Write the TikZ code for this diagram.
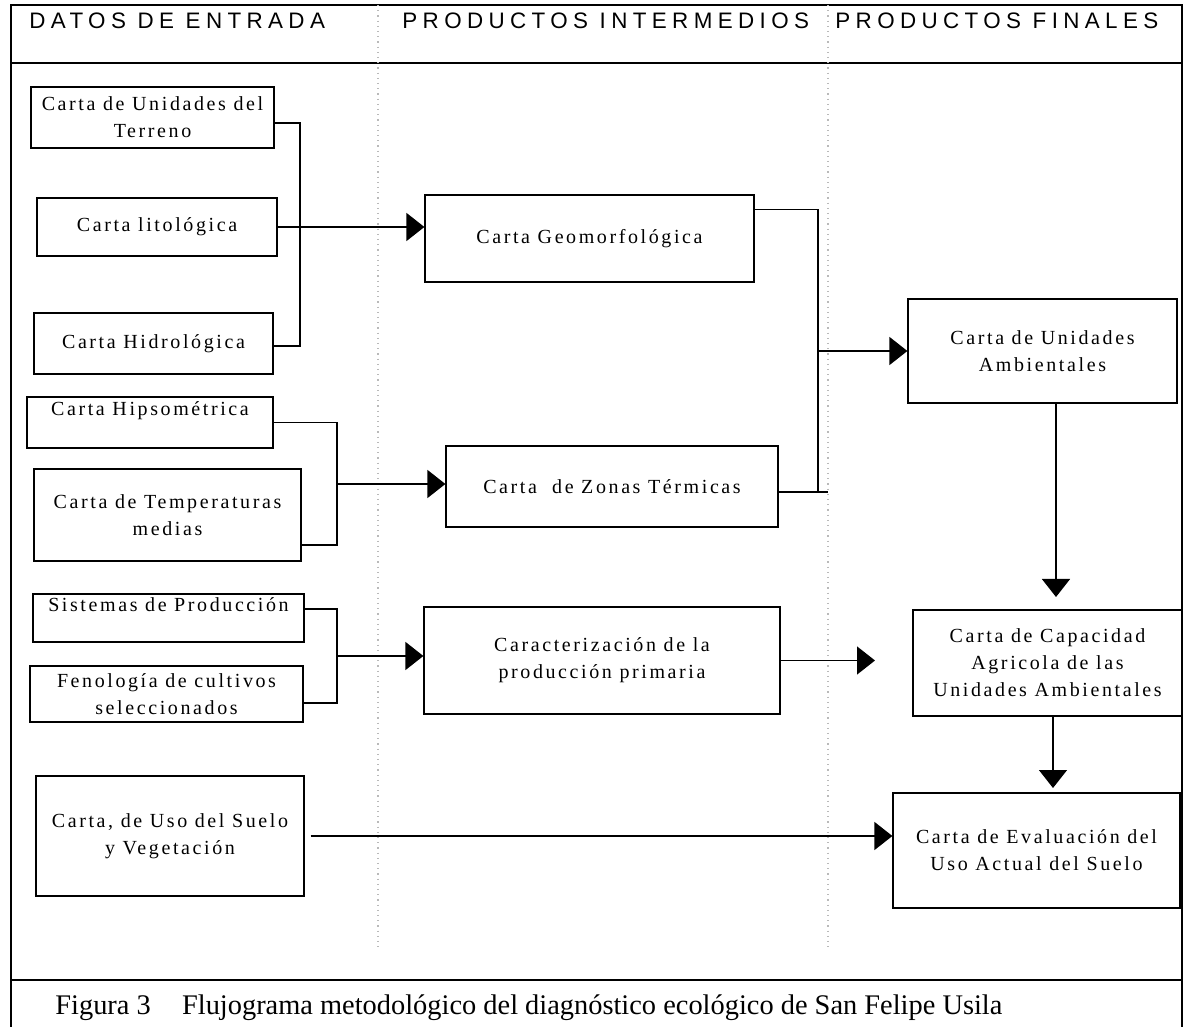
\documentclass[tikz,border=0pt]{standalone}
\usepackage{fontspec}
\setmainfont{Liberation Serif}
\newfontfamily\boxfont[LetterSpace=13]{Liberation Serif}
\newfontfamily\headfont[LetterSpace=24]{Liberation Sans}
\usetikzlibrary{arrows.meta}
\tikzstyle{every picture}+=[
  dnode/.style={draw,line width=0.6pt,shape=rectangle,inner xsep=2pt,inner ysep=1pt,align=center,font=\boxfont\fontsize{10}{13.5}\selectfont},
  hnode/.style={anchor=west,inner sep=0pt,font=\headfont\fontsize{11.2}{13}\selectfont},
  wire/.style={draw,line width=0.7pt},
  feed/.style={wire,-{Triangle[length=9pt,width=14pt]}},
  colline/.style={draw,gray!55,dotted,line width=0.6pt},
  framelines/.style={draw,line width=1pt}
]
\def\headrow{63}
\def\footrow{980}

\begin{document}
\begin{tikzpicture}[x=0.5pt,y=-0.5pt]
      \useasboundingbox (0,0) rectangle (1185,1027);
      %
      \path [framelines] (11,1027) -- (11,5) -- (1182,5) -- (1182,1027);
      \path [framelines] (11,\headrow) -- (1182,\headrow);
      \path [framelines, line width=1.4pt] (11,\footrow) -- (1182,\footrow);
      \path [colline] (378,5) -- (378,947);
      \path [colline] (828,5) -- (828,947);
      %
      \node[style=hnode] (h1) at (29,21) {DATOS DE ENTRADA};
      \node[style=hnode] (h2) at (402,21) {PRODUCTOS INTERMEDIOS};
      \node[style=hnode] (h3) at (835,21) {PRODUCTOS FINALES};
      %
      \node[style=dnode, minimum width=121.5pt, minimum height=30.5pt] (ut) at (152.5,117.5) {Carta de Unidades del\\Terreno};
      \node[style=dnode, minimum width=120pt, minimum height=29pt] (lit) at (157,227) {Carta litológica};
      \node[style=dnode, minimum width=119.5pt, minimum height=30.5pt] (hid) at (153.5,343.5) {Carta Hidrológica};
      \node[style=dnode, minimum width=123pt, minimum height=25.5pt] (hip) at (150,422.5) {Carta Hipsométrica\\\mbox{}};
      \node[style=dnode, minimum width=133.5pt, minimum height=46pt] (tem) at (167.5,515) {Carta de Temperaturas\\medias};
      \node[style=dnode, minimum width=135.5pt, minimum height=24pt] (sis) at (168.5,618) {Sistemas de Producción\\\mbox{}};
      \node[style=dnode, minimum width=136.5pt, minimum height=28pt] (fen) at (166.5,694) {Fenología de cultivos\\seleccionados};
      \node[style=dnode, minimum width=134pt, minimum height=60pt] (uso) at (170,836) {Carta, de Uso del Suelo\\y Vegetación};
      %
      \node[style=dnode, minimum width=164.5pt, minimum height=43.5pt] (geo) at (589.5,238.5) {Carta Geomorfológica};
      \node[style=dnode, minimum width=166pt, minimum height=40.5pt] (zon) at (612,486.5) {Carta\ \ de Zonas Térmicas};
      \node[style=dnode, minimum width=178pt, minimum height=53.5pt] (car) at (602,660.5) {Caracterización de la\\producción primaria};
      %
      \node[style=dnode, minimum width=134.5pt, minimum height=52pt] (ua) at (1042.5,351) {Carta de Unidades\\Ambientales};
      \node[style=dnode, minimum width=134.5pt, minimum height=53pt] (cap) at (1047.5,663) {Carta de Capacidad\\Agricola de las\\Unidades Ambientales};
      \node[style=dnode, minimum width=143.5pt, minimum height=57.5pt] (eva) at (1036.5,850.5) {Carta de Evaluación del\\Uso Actual del Suelo};
      %
      \node[anchor=west, inner sep=0pt, font=\fontsize{14.2}{16}\selectfont] (pie) at (55,1008) {Figura 3\hspace{1.1em}Flujograma metodológico del diagnóstico ecológico de San Felipe Usila};
      %
      \coordinate (bus1) at (300,231);
      \coordinate (bus2) at (337,484);
      \coordinate (bus3) at (337,656);
      \coordinate (bus4) at (818,351);
      \coordinate (zonend) at (828,492);
      \coordinate (capin) at (875,658);
      \coordinate (capup) at (1056,597);
      \coordinate (evaup) at (1053,788);
      %
      \path [wire] ([yshift=-2.75pt]ut.east) -| (bus1) |- ([yshift=-1.25pt]hid.east);
      \path [feed] (lit.east) -- (lit.east -| geo.west);
      \path [wire] (hip.east) -| (bus2) |- ([yshift=-15pt]tem.east);
      \path [feed] (bus2) -- (bus2 -| zon.west);
      \path [wire] ([yshift=4.5pt]sis.east) -| (bus3) |- ([yshift=-4.5pt]fen.east);
      \path [feed] (bus3) -- (bus3 -| car.west);
      \path [wire] ([yshift=-7.5pt]geo.north east) -| (bus4) |- (zonend);
      \path [wire] ([yshift=-2.75pt]zon.east) -- (zonend);
      \path [feed] (bus4) -- (bus4 -| ua.west);
      \path [feed] (car.east) -- (car.east -| capin);
      \path [feed] (capup |- ua.south) -- (capup);
      \path [feed] (evaup |- cap.south) -- (evaup);
      \path [feed] ([xshift=3pt]uso.east) -- (uso.east -| eva.west);
      %
\end{tikzpicture}
\end{document}
